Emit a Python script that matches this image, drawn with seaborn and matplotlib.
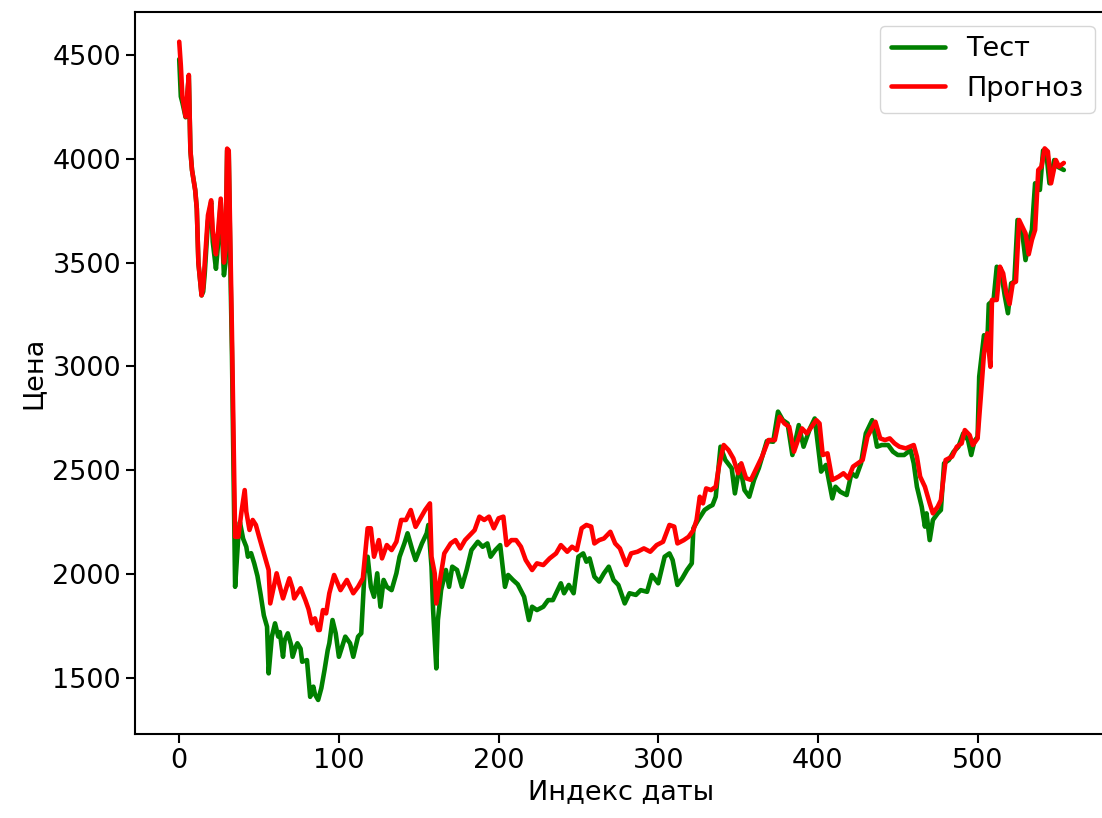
import matplotlib
matplotlib.use("Agg")
import matplotlib.pyplot as plt
import seaborn as sns
import pandas as pd

# Test series: (date index, price)
test_idx = [0, 1, 2, 4, 6, 7, 8, 10, 11, 12, 14, 15, 16, 18, 20, 21, 23, 24, 26, 28, 29,
            30, 31, 32, 33, 34, 35, 37, 38, 40, 42, 43, 45, 47, 49, 51, 53, 55, 56, 58, 60,
            62, 63, 65, 66, 68, 70, 71, 73, 74, 76, 77, 80, 82, 84, 85, 87, 89, 91, 93, 94,
            96, 98, 100, 102, 104, 107, 109, 112, 114, 116, 118, 120, 122, 124, 126, 128,
            130, 133, 136, 138, 141, 143, 146, 148, 152, 155, 156, 158, 159, 161, 162, 164,
            167, 169, 171, 174, 177, 180, 183, 187, 190, 193, 195, 198, 201, 204, 206, 209,
            212, 216, 219, 221, 224, 228, 231, 234, 237, 239, 241, 244, 247, 250, 253, 255,
            257, 260, 263, 266, 269, 272, 275, 279, 282, 286, 289, 293, 296, 300, 304, 307,
            309, 312, 315, 318, 321, 322, 325, 329, 332, 334, 336, 339, 342, 346, 348, 351,
            354, 357, 360, 363, 368, 372, 375, 378, 381, 384, 388, 391, 395, 398, 402, 405,
            409, 411, 414, 418, 421, 424, 427, 430, 434, 437, 440, 444, 447, 450, 454, 458,
            460, 462, 465, 467, 468, 470, 472, 475, 477, 479, 482, 485, 488, 491, 494, 496,
            498, 500, 501, 504, 506, 507, 510, 512, 515, 517, 519, 521, 523, 525, 528, 530,
            532, 534, 536, 539, 541, 543, 545, 548, 550, 554]
test_price = [4480, 4300, 4270, 4200, 4400, 4040, 3946, 3850, 3760, 3500, 3342, 3360, 3450,
              3700, 3790, 3600, 3470, 3560, 3790, 3439, 3500, 4040, 4030, 3500, 3069, 2500,
              1938, 2180, 2250, 2170, 2131, 2083, 2100, 2050, 1990, 1900, 1800, 1746, 1521,
              1698, 1762, 1698, 1720, 1601, 1680, 1714, 1660, 1601, 1650, 1666, 1640, 1577,
              1585, 1408, 1457, 1420, 1393, 1450, 1537, 1633, 1666, 1778, 1714, 1601, 1650,
              1698, 1666, 1601, 1698, 1714, 2003, 2083, 1938, 1890, 2003, 1842, 1971, 1938,
              1922, 2003, 2083, 2147, 2196, 2115, 2067, 2147, 2196, 2236, 2035, 1826, 1545,
              1778, 1922, 2019, 1938, 2035, 2019, 1938, 2019, 2115, 2155, 2131, 2147, 2083,
              2115, 2139, 1938, 1995, 1971, 1950, 1890, 1778, 1842, 1826, 1842, 1874, 1874,
              1922, 1955, 1907, 1947, 1907, 2083, 2099, 2059, 2075, 1987, 1963, 2003, 2035,
              1971, 1947, 1858, 1907, 1899, 1922, 1914, 1995, 1955, 2083, 2099, 2067, 1947,
              1979, 2019, 2051, 2220, 2260, 2308, 2324, 2332, 2372, 2613, 2549, 2509, 2388,
              2525, 2404, 2372, 2453, 2510, 2640, 2637, 2782, 2741, 2725, 2573, 2717, 2613,
              2701, 2749, 2493, 2525, 2364, 2420, 2396, 2380, 2485, 2469, 2533, 2677, 2741,
              2613, 2621, 2621, 2589, 2573, 2573, 2597, 2533, 2420, 2324, 2228, 2292, 2163,
              2260, 2292, 2308, 2533, 2549, 2589, 2613, 2677, 2645, 2573, 2640, 2660, 2950,
              3150, 3100, 3300, 3320, 3480, 3440, 3340, 3256, 3400, 3408, 3705, 3641, 3512,
              3600, 3657, 3882, 3850, 4040, 4030, 3882, 3994, 3962, 3946]

# Forecast series: (date index, price)
pred_idx = [0, 1, 2, 4, 6, 7, 8, 10, 11, 12, 14, 15, 16, 18, 20, 21, 23, 24, 26, 28, 29,
            30, 31, 32, 33, 35, 37, 39, 41, 42, 44, 46, 48, 50, 53, 56, 57, 59, 61, 63, 65,
            67, 69, 71, 72, 76, 79, 81, 83, 85, 87, 88, 90, 92, 94, 97, 101, 105, 109, 112,
            115, 118, 120, 122, 125, 127, 130, 133, 136, 139, 142, 145, 148, 151, 154, 157,
            158, 160, 161, 163, 166, 170, 173, 176, 179, 182, 185, 188, 191, 194, 197, 200,
            203, 205, 208, 211, 214, 217, 221, 224, 228, 232, 236, 239, 243, 246, 249, 252,
            255, 258, 260, 263, 266, 270, 273, 276, 280, 283, 287, 291, 295, 299, 303, 307,
            310, 312, 316, 319, 322, 324, 326, 328, 330, 333, 336, 338, 341, 344, 347, 350,
            352, 355, 358, 362, 365, 369, 373, 376, 379, 382, 385, 390, 393, 396, 399, 401,
            403, 406, 409, 413, 416, 419, 422, 425, 428, 431, 436, 439, 442, 445, 448, 451,
            455, 460, 462, 464, 467, 470, 472, 475, 477, 480, 484, 487, 490, 492, 495, 497,
            500, 502, 504, 506, 508, 509, 512, 514, 516, 518, 520, 522, 524, 526, 530, 532,
            534, 536, 538, 540, 542, 544, 546, 549, 551, 554]
pred_price = [4564, 4450, 4299, 4203, 4404, 4042, 3946, 3849, 3760, 3500, 3342, 3380, 3500,
              3728, 3800, 3650, 3540, 3620, 3808, 3500, 3560, 4049, 4040, 3600, 3165, 2179,
              2179, 2300, 2404, 2300, 2212, 2260, 2236, 2180, 2099, 2019, 1858, 1930, 2003,
              1940, 1882, 1930, 1979, 1930, 1882, 1931, 1874, 1830, 1762, 1786, 1730, 1730,
              1826, 1810, 1907, 1995, 1922, 1971, 1907, 1938, 1979, 2220, 2220, 2083, 2163,
              2075, 2139, 2115, 2155, 2260, 2260, 2308, 2227, 2268, 2308, 2340, 2083, 2003,
              1858, 1955, 2099, 2147, 2163, 2123, 2163, 2187, 2211, 2276, 2260, 2276, 2220,
              2268, 2276, 2139, 2163, 2163, 2131, 2067, 2019, 2051, 2043, 2075, 2099, 2139,
              2107, 2131, 2115, 2220, 2236, 2228, 2147, 2163, 2171, 2203, 2147, 2123, 2043,
              2099, 2107, 2123, 2107, 2139, 2155, 2236, 2228, 2147, 2163, 2179, 2211, 2260,
              2372, 2340, 2412, 2404, 2420, 2517, 2621, 2597, 2557, 2485, 2533, 2461, 2453,
              2517, 2565, 2645, 2645, 2757, 2725, 2709, 2589, 2701, 2677, 2709, 2741, 2725,
              2573, 2581, 2453, 2469, 2485, 2461, 2517, 2533, 2549, 2661, 2733, 2653, 2645,
              2653, 2629, 2613, 2605, 2621, 2565, 2469, 2420, 2340, 2292, 2324, 2356, 2549,
              2565, 2613, 2629, 2693, 2669, 2621, 2653, 2854, 3063, 3159, 2998, 3320, 3320,
              3480, 3448, 3352, 3300, 3400, 3408, 3705, 3641, 3540, 3609, 3657, 3946, 3962,
              4050, 4035, 3882, 3994, 3962, 3980]

test_df = pd.DataFrame({"idx": test_idx, "price": test_price})
pred_df = pd.DataFrame({"idx": pred_idx, "price": pred_price})

sns.set_style("ticks")
plt.rcParams["font.family"] = ["DejaVu Sans"]
plt.rcParams.update({
    "text.color": "black",
    "axes.labelcolor": "black",
    "xtick.color": "black",
    "ytick.color": "black",
    "axes.edgecolor": "black",
})
fs = 19.5

fig = plt.figure(figsize=(11.02, 8.18), dpi=100)
ax = fig.add_axes([0.1225, 0.1027, 0.883, 0.8826])

sns.lineplot(data=test_df, x="idx", y="price", ax=ax, color="green", linewidth=3.3, label="Тест")
sns.lineplot(data=pred_df, x="idx", y="price", ax=ax, color="red", linewidth=3.3, label="Прогноз")

ax.set_xlim(-27.7, 581.7)
ax.set_ylim(1229, 4707)
ax.set_xticks([0, 100, 200, 300, 400, 500])
ax.set_yticks([1500, 2000, 2500, 3000, 3500, 4000, 4500])
ax.set_xlabel("Индекс даты", fontsize=fs)
ax.set_ylabel("Цена", fontsize=fs)
ax.tick_params(axis="both", labelsize=fs, length=6.5, width=1.5, direction="out", color="black")
for s in ax.spines.values():
    s.set_visible(True)
    s.set_linewidth(1.5)
    s.set_color("black")

ax.legend(loc="upper right", fontsize=fs, frameon=True, fancybox=True, framealpha=0.8,
          edgecolor="#cccccc", handlelength=2.0)

fig.savefig("out.png", dpi=100)
